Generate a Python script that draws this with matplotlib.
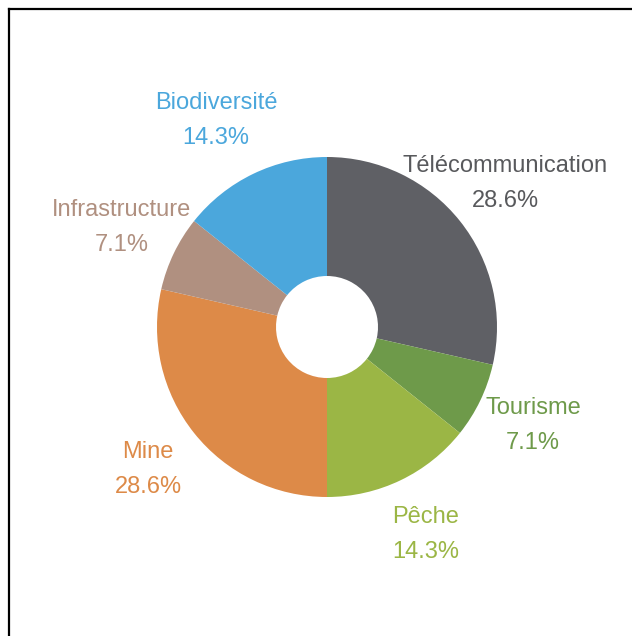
import matplotlib.pyplot as plt
from matplotlib.lines import Line2D

labels = ["Télécommunication", "Tourisme", "Pêche", "Mine", "Infrastructure", "Biodiversité"]
counts = [4, 1, 2, 4, 1, 2]
pct_labels = ["28.6%", "7.1%", "14.3%", "28.6%", "7.1%", "14.3%"]
colors = ["#5f6065", "#6e9a4a", "#9bb645", "#dd8a48", "#b09080", "#4ba7dc"]
text_colors = ["#58595c", "#6e9a4a", "#9bb645", "#dd8a48", "#b09080", "#4ba7dc"]

plt.rcParams["font.family"] = ["Liberation Sans", "DejaVu Sans"]

fig = plt.figure(figsize=(6.32, 6.36), dpi=100)
ax = fig.add_axes([0, 0, 1, 1])

ax.pie(
    counts,
    colors=colors,
    startangle=90,
    counterclock=False,
    radius=1.0,
    wedgeprops=dict(width=0.7, edgecolor="none"),
)

# label positions (pixel centres, converted to data units)
cx, cy, scale = 327, 327, 170
label_px = [(505, 166), (533, 408), (426, 517), (148, 452), (122, 210), (216, 103)]
for (px, py), name, pct, col in zip(label_px, labels, pct_labels, text_colors):
    x = (px - cx) / scale
    y = (cy - py) / scale
    ax.text(x, y, name, color=col, fontsize=17, ha="center", va="center")
    ax.text(x, y - 35 / scale, pct, color=col, fontsize=17, ha="center", va="center")

ax.set_xlim(-cx / scale, (632 - cx) / scale)
ax.set_ylim((cy - 636) / scale, cy / scale)
ax.set_aspect("auto")
ax.axis("off")

# frame (only left and top edges visible in the crop)
fig.add_artist(Line2D([9 / 632, 9 / 632], [0, 1 - 9 / 636], color="black", lw=1.6))
fig.add_artist(Line2D([9 / 632, 1], [1 - 9 / 636, 1 - 9 / 636], color="black", lw=1.6))

fig.savefig("out.png", dpi=100)
